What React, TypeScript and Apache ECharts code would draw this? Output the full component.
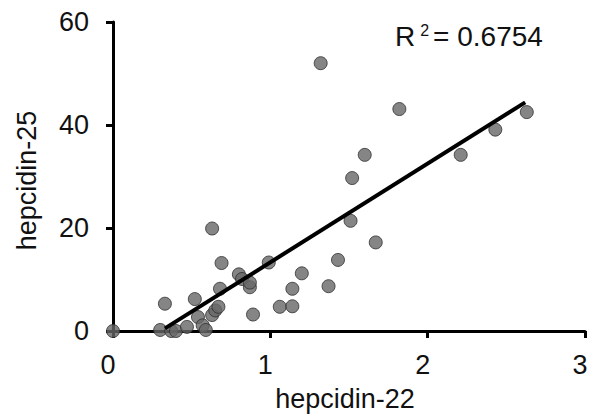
import React, { useEffect, useRef } from "react";
import * as echarts from "echarts";

const xValues = [0, 0.30, 0.33, 0.37, 0.40, 0.47, 0.52, 0.54, 0.57, 0.59, 0.63, 0.65, 0.67, 0.68, 0.69, 0.63, 0.80, 0.82, 0.87, 0.87, 0.89, 0.99, 1.06, 1.14, 1.14, 1.20, 1.37, 1.43, 1.32, 1.82, 2.63, 2.43, 2.21, 1.60, 1.52, 1.51, 1.67];
const yValues = [0, 0.2, 5.3, 0, 0, 0.8, 6.2, 2.7, 1.1, 0.2, 3.1, 4.0, 4.7, 8.2, 13.2, 19.9, 11.0, 10.1, 8.5, 9.4, 3.2, 13.3, 4.7, 4.8, 8.2, 11.2, 8.7, 13.8, 52.0, 43.1, 42.5, 39.1, 34.2, 34.2, 29.7, 21.4, 17.2];
const fitX = [0.33, 2.62];
const fitY = [0.5, 44.4];
const xTicks = { min: 0, max: 3, interval: 1 };
const yTicks = { min: 0, max: 60, interval: 20 };
const xName = "hepcidin-22";
const yName = "hepcidin-25";
const r2Value = "0.6754";

export default function App() {
  const ref = useRef<HTMLDivElement>(null);
  useEffect(() => {
    if (!ref.current) return;
    const chart = echarts.init(ref.current, null, { renderer: "svg" });
    const font = "Liberation Sans, Arial, Helvetica, sans-serif";
    const axisCommon = {
      axisLine: { show: true, onZero: false, lineStyle: { color: "#000", width: 3 } },
      axisTick: { show: true, inside: false, length: 7, lineStyle: { color: "#000", width: 3 } },
      splitLine: { show: false },
    };
    chart.setOption({
      animation: false,
      backgroundColor: "#fff",
      grid: { left: 113, right: 12, top: 22, bottom: 81, containLabel: false },
      xAxis: {
        type: "value",
        ...xTicks,
        ...axisCommon,
        name: xName,
        nameLocation: "middle",
        nameGap: 54,
        nameTextStyle: { color: "#111", fontSize: 27, fontFamily: font, padding: [0, 8, 0, 0] },
        axisLabel: { color: "#111", fontSize: 27, fontFamily: font, margin: 20, padding: [0, 10, 0, 0] },
      },
      yAxis: {
        type: "value",
        ...yTicks,
        ...axisCommon,
        name: yName,
        nameLocation: "middle",
        nameGap: 73,
        nameTextStyle: { color: "#111", fontSize: 27, fontFamily: font, padding: [0, 8, 0, 0] },
        axisLabel: { color: "#111", fontSize: 27, fontFamily: font, margin: 24, padding: [10, 0, 0, 0] },
      },
      graphic: [
        {
          type: "text",
          left: 395,
          top: 22,
          style: {
            text: "{r|R}{s|2}{r|= " + r2Value + "}",
            rich: {
              r: { fontSize: 28, fontFamily: font, fill: "#111" },
              s: { fontSize: 16, fontFamily: font, fill: "#111", verticalAlign: "top", padding: [0, 4, 10, 5] },
            },
          },
        },
      ],
      series: [
        {
          type: "scatter",
          clip: false,
          symbol: "circle",
          symbolSize: 13,
          itemStyle: { color: "#666", borderColor: "#2e2e2e", borderWidth: 1 },
          data: xValues.map((x, i) => [x, yValues[i]]),
          z: 2,
        },
        {
          type: "line",
          showSymbol: false,
          symbol: "none",
          lineStyle: { color: "#000", width: 4 },
          data: fitX.map((x, i) => [x, fitY[i]]),
          z: 3,
        },
      ],
    });
    return () => chart.dispose();
  }, []);
  return <div ref={ref} style={{ width: 597, height: 417, position: "absolute", left: 0, top: 0 }} />;
}
